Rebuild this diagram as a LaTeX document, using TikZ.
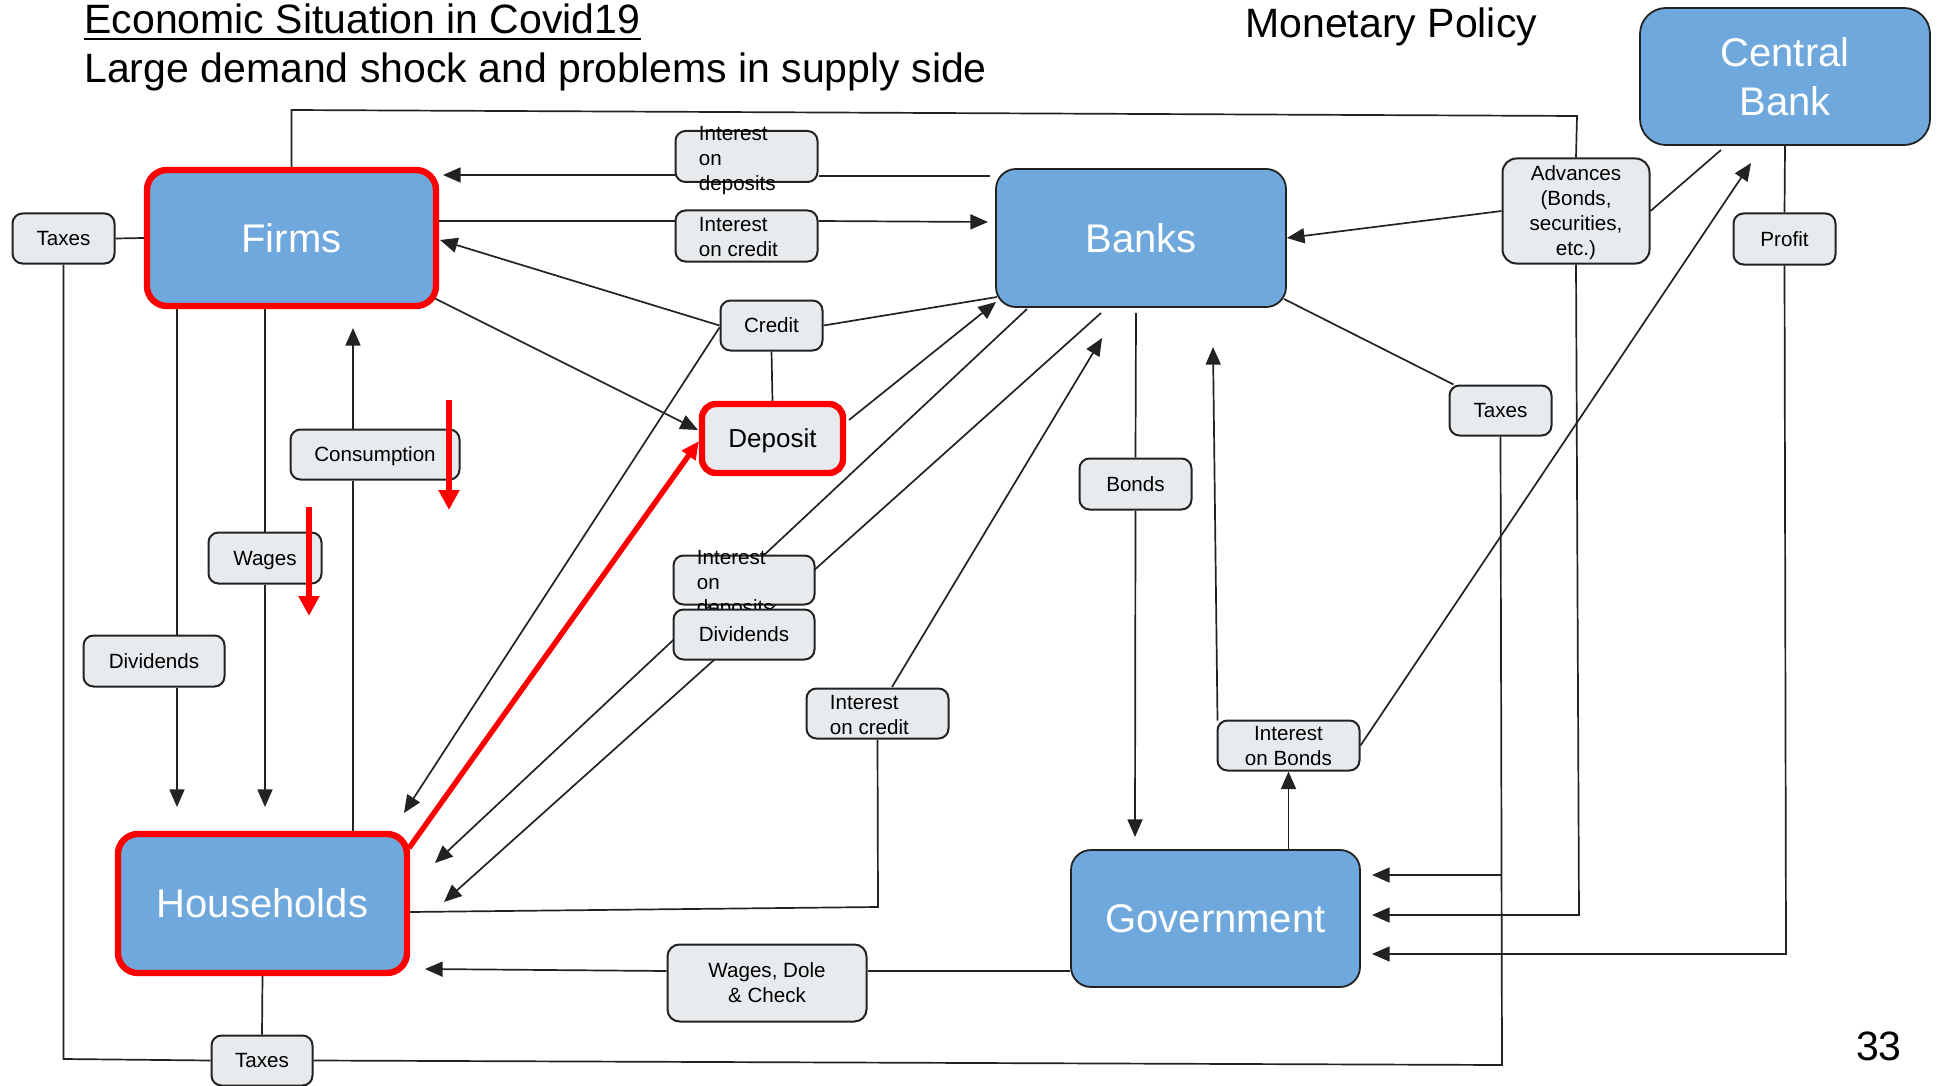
\documentclass[tikz,border=0pt]{standalone}
\usepackage{fontspec}
\setmainfont{Liberation Sans}
\usetikzlibrary{arrows.meta,calc,backgrounds}
\definecolor{boxblue}{HTML}{6FA8DC}
\definecolor{boxgray}{HTML}{E8EBED}
\definecolor{edge}{HTML}{222222}
\definecolor{hotred}{HTML}{FF0000}
\newcommand\bigfont{\fontsize{20}{24.5}\selectfont}
\newcommand\smallfont{\fontsize{10.3}{12.5}\selectfont}
\newcommand\titlefont{\fontsize{20.5}{24}\selectfont}
\newcommand\depfont{\fontsize{13}{15}\selectfont}
\begin{document}
\begin{tikzpicture}[x=0.5pt, y=-0.5pt,
  conn/.style={draw=edge, line width=0.85pt},
  arr/.style={conn, -{Triangle[length=8.8pt,width=7.5pt]}},
  redarr/.style={draw=hotred, line width=2.7pt, -{Triangle[length=10pt,width=10pt]}},
  bigbox/.style={rectangle, rounded corners=10pt, fill=boxblue, draw=edge, line width=0.9pt,
                 text=white, font=\bigfont, align=center, inner sep=0pt},
  hot/.style={draw=hotred, line width=3.2pt},
  gbox/.style={rectangle, rounded corners=5pt, fill=boxgray, draw=edge, line width=1pt,
               text=black, font=\smallfont, align=center, inner sep=0pt, text depth=0pt},
  lbl/.style={font=\smallfont, inner sep=0pt, align=left, anchor=west, text depth=0pt},
  heading/.style={font=\titlefont, inner sep=0pt, anchor=base west},
]
\useasboundingbox (0,0) rectangle (1940,1086);

% ---------- headings ----------
\node[heading] (title) at (84,34) {Economic Situation in Covid19};
\draw[line width=1.2pt] ($(title.base west)+(0,5)$) -- ($(title.base east)+(0,5)$);
\node[heading] (subtitle) at (84,83) {Large demand shock and problems in supply side};
\node[heading] (mp) at (1245,38) {Monetary Policy};
\node[font=\titlefont, inner sep=0pt, anchor=base east] (pg) at (1902,1060) {33};

% ---------- sectors ----------
\node[bigbox, minimum width=145pt, minimum height=68.5pt, rounded corners=13pt] (CB) at (1785,76.5) {Central\\Bank};
\node[bigbox, minimum width=145pt, minimum height=69pt] (Banks) at (1141,238) {Banks};
\node[bigbox, minimum width=144.5pt, minimum height=68.5pt] (Gov) at (1215.5,918.5) {Government};
\node[bigbox, hot, minimum width=144.5pt, minimum height=68pt] (Firms) at (291.5,238) {Firms};
\node[bigbox, hot, minimum width=144.5pt, minimum height=69.5pt] (HH) at (262.5,903.5) {Households};
\node[gbox, hot, rounded corners=7pt, font=\depfont, minimum width=70.5pt, minimum height=34.5pt] (Dep) at (772.5,438.5) {Deposit};

% ---------- flows ----------
\node[gbox, minimum width=51pt, minimum height=25pt] (taxF) at (63.5,238.5) {Taxes};
\node[gbox, minimum width=71pt, minimum height=25.5pt] (depTop) at (746.5,156.5) {};
\node[lbl] at ($(depTop.west)+(24,2)$) {Interest\\on\\deposits};
\node[gbox, minimum width=71pt, minimum height=25.5pt] (credTop) at (746.5,236) {};
\node[lbl] at ($(credTop.west)+(24,1)$) {Interest\\on credit};
\node[gbox, minimum width=51pt, minimum height=25pt] (credit) at (771.5,325.5) {Credit};
\node[gbox, minimum width=84.5pt, minimum height=25pt] (cons) at (375,454.5) {Consumption};
\node[gbox, minimum width=56.5pt, minimum height=25.5pt] (wages) at (265,558) {Wages};
\node[gbox, minimum width=70.5pt, minimum height=25.5pt] (divL) at (154,661) {Dividends};
\node[gbox, minimum width=70.5pt, minimum height=24.5pt] (depMid) at (744,580) {};
\node[lbl] at ($(depMid.west)+(24,2)$) {Interest\\on\\deposits};
\node[gbox, minimum width=70.5pt, minimum height=25pt] (divMid) at (744,634.5) {Dividends};
\node[gbox, minimum width=71pt, minimum height=25pt] (credMid) at (877.5,713.5) {};
\node[lbl] at ($(credMid.west)+(24,1)$) {Interest\\on credit};
\node[gbox, minimum width=56pt, minimum height=25.5pt] (bonds) at (1135.5,484) {Bonds};
\node[gbox, minimum width=51pt, minimum height=25pt] (taxB) at (1500.5,410.5) {Taxes};
\node[gbox, minimum width=71pt, minimum height=25pt] (intBonds) at (1288.5,745.5) {Interest\\on Bonds};
\node[gbox, minimum width=51pt, minimum height=25.5pt] (profit) at (1784.5,239) {Profit};
\node[gbox, rounded corners=7pt, minimum width=73.5pt, minimum height=52.5pt] (adv) at (1576,211) {Advances\\(Bonds,\\securities,\\etc.)};
\node[gbox, rounded corners=6pt, minimum width=99.5pt, minimum height=38.5pt] (wdc) at (767,983) {Wages, Dole\\\& Check};
\node[gbox, minimum width=50.5pt, minimum height=25pt] (taxH) at (262,1060.5) {Taxes};

% ---------- free ends of connectors ----------
\coordinate (loopL) at (291.5,110);
\coordinate (loopR) at (1577,116);
\coordinate (advTurn) at (1579,915);
\coordinate (govIn2) at (1372,915);
\coordinate (profTurn) at (1786,954);
\coordinate (govIn3) at (1372,954);
\coordinate (bkSE) at (1284,299);
\coordinate (taxTurn) at (1502,1065);
\coordinate (taxJoin) at (1501,875);
\coordinate (govIn1) at (1372,875);
\coordinate (taxLTurn) at (63.5,1059);
\coordinate (bkDepOut) at (990,176);
\coordinate (fDepIn) at (443,175);
\coordinate (fCredOut) at (439,221);
\coordinate (bkCredIn) at (988,222);
\coordinate (bkCrOut) at (997,297);
\coordinate (fCrIn) at (440,240);
\coordinate (hhCrIn) at (404,813);
\coordinate (fDepOut) at (432,297);
\coordinate (depIn) at (698,430);
\coordinate (depOut) at (849,420);
\coordinate (bkDepIn) at (996,302);
\coordinate (bkOutA) at (1027,309);
\coordinate (hhInA) at (435,863);
\coordinate (bkOutB) at (1101,313);
\coordinate (hhInB) at (444,902);
\coordinate (hhCrOut) at (410,912);
\coordinate (crTurn) at (878,907);
\coordinate (crUp) at (892,687);
\coordinate (bkCrIn) at (1102,338);
\coordinate (bkBondOut) at (1136,313);
\coordinate (govBondIn) at (1135,837);
\coordinate (bkIntIn) at (1213,347);
\coordinate (cbIntIn) at (1751,163);
\coordinate (cbAdvOut) at (1721,150);
\coordinate (fDivOut) at (177,307);
\coordinate (hhDivIn) at (177,807);
\coordinate (consX) at (353,0);
\coordinate (fConsIn) at (353,328);
\coordinate (wdcRow) at (0,971);
\coordinate (hhWIn) at (425,969);

% ---------- connectors ----------
\begin{scope}[on background layer]
  % firms -- advances -- government
  \draw[conn] (Firms.north) -- (loopL) -- (loopR) -- (adv.north);
  \draw[arr] (adv.south) -- (advTurn) -- (govIn2);
  % central bank -- profit -- government
  \draw[conn] (CB.south) -- (profit.north);
  \draw[arr] (profit.south) -- (profTurn) -- (govIn3);
  % taxes
  \draw[conn] (bkSE) -- ($(taxB.north west)+(5,0)$);
  \draw[conn] (taxB.south) -- (taxTurn) -- (taxH.east);
  \draw[arr] (taxJoin) -- (govIn1);
  \draw[conn] (taxF.east) -- (Firms.west);
  \draw[conn] (taxF.south) -- (taxLTurn) -- (taxH.west);
  \draw[conn] (HH.south) -- (taxH.north);
  % interest on deposits / credit between banks and firms
  \draw[conn] (bkDepOut) -- (depTop.east |- bkDepOut);
  \draw[arr] (depTop.west |- fDepIn) -- (fDepIn);
  \draw[conn] (fCredOut) -- (credTop.west |- fCredOut);
  \draw[arr] (credTop.east |- fCredOut) -- (bkCredIn);
  % credit
  \draw[conn] (bkCrOut) -- (credit.east);
  \draw[arr] (credit.west) -- (fCrIn);
  \draw[arr] ($(credit.west)+(0,2)$) -- (hhCrIn);
  \draw[conn] (credit.south) -- (Dep.north);
  % deposits
  \draw[arr] (fDepOut) -- (depIn);
  \draw[arr] (depOut) -- (bkDepIn);
  % banks to households: interest on deposits, dividends
  \draw[arr] (bkOutA) -- (hhInA);
  \draw[arr] (bkOutB) -- (hhInB);
  % households to banks: interest on credit
  \draw[conn] (hhCrOut) -- (crTurn) -- (credMid.south);
  \draw[arr] (crUp) -- (bkCrIn);
  % bonds
  \draw[conn] (bkBondOut) -- (bonds.north);
  \draw[arr] (bonds.south) -- (govBondIn);
  \draw[arr] (Gov.north -| intBonds.south) -- (intBonds.south);
  \draw[arr] ($(intBonds.north west)+(1,1)$) -- (bkIntIn);
  \draw[arr] (intBonds.east) -- (cbIntIn);
  % central bank advances
  \draw[conn] (cbAdvOut) -- (adv.east);
  \draw[arr] (adv.west) -- (Banks.east);
  % firms and households
  \draw[conn] (fDivOut) -- (fDivOut |- divL.north);
  \draw[arr] (divL.south -| fDivOut) -- (hhDivIn);
  \draw[conn] (Firms.south -| wages.north) -- (wages.north);
  \draw[arr] (wages.south) -- (wages.south |- hhDivIn);
  \draw[conn] (HH.north -| consX) -- (cons.south -| consX);
  \draw[arr] (cons.north -| consX) -- (fConsIn);
  % government transfers
  \draw[conn] (Gov.west |- wdcRow) -- (wdc.east |- wdcRow);
  \draw[arr] (wdc.west |- wdcRow) -- (hhWIn);
\end{scope}

% ---------- shock arrows ----------
\coordinate (redA1) at (449,400);
\coordinate (redA2) at (449,510);
\coordinate (redB1) at (309,507);
\coordinate (redB2) at (309,616);
\coordinate (hhRedOut) at (409,848);
\coordinate (depRedIn) at (699,441);
\draw[redarr] (redA1) -- (redA2);
\draw[redarr] (redB1) -- (redB2);
\draw[redarr, -{Triangle[length=9pt,width=8pt]}] (hhRedOut) -- (depRedIn);
\end{tikzpicture}
\end{document}
